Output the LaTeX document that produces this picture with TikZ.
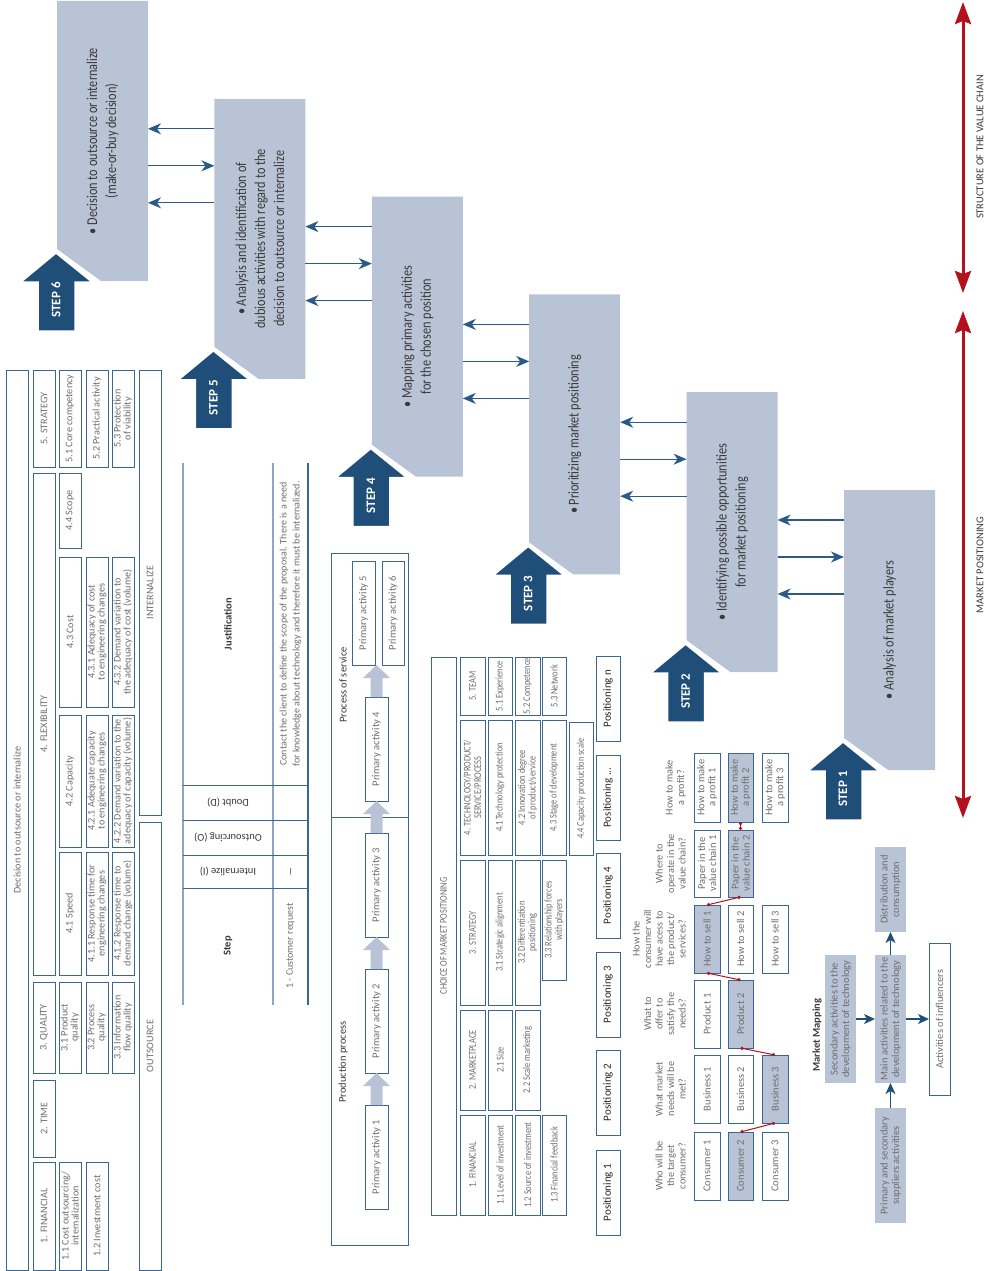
\documentclass[tikz,border=0pt]{standalone}
\usepackage{fontspec}
\setmainfont{Carlito}
\newfontfamily\pfont[FakeStretch=0.82]{Carlito}
\newfontfamily\tfont[FakeStretch=0.82]{Carlito}
\usetikzlibrary{arrows.meta,calc}

\definecolor{panelc}{HTML}{B8C4D5}
\definecolor{stepc}{HTML}{1F4E79}
\definecolor{connc}{HTML}{2A5A8A}
\definecolor{tblc}{HTML}{3A6691}
\definecolor{tbll}{HTML}{8DA6C3}
\definecolor{txtc}{HTML}{6E6E6E}
\definecolor{dtxt}{HTML}{3A3A3A}
\definecolor{redc}{HTML}{B3121C}

\tikzset{
  cellbox/.style={draw=tblc, line width=0.9pt, rotate=90, inner sep=0pt, outer sep=0pt, align=center,
    font=\fontsize{10.2}{10}\selectfont, text=txtc},
  chbox/.style={font=\tfont\fontsize{10.3}{10.5}\selectfont},
  pabox/.style={font=\fontsize{10.5}{11}\selectfont},
  posbox/.style={font=\fontsize{11}{12}\selectfont, text=black!85, draw=tblc},
  mmbox/.style={font=\fontsize{10.5}{11}\selectfont},
  selbox/.style={fill=panelc},
  gbox/.style={draw=none, fill=panelc, font=\fontsize{10.5}{11.5}\selectfont},
  panelnode/.style={minimum width=91pt, minimum height=280pt, inner sep=0pt, outer sep=0pt, anchor=north west},
  ptext/.style={rotate=90, align=center, font=\pfont\fontsize{15}{19}\selectfont, text=dtxt},
  steptext/.style={rotate=90, font=\bfseries\fontsize{13}{13}\selectfont, text=white},
  connline/.style={draw=connc, line width=1.3pt, -{Stealth[length=13pt,width=11pt,inset=4pt]}},
  redarrow/.style={draw=redc, line width=3pt, {Stealth[length=22pt,width=16pt,inset=3pt]}-{Stealth[length=22pt,width=16pt,inset=3pt]}},
  redlink/.style={draw=redc, line width=1pt, {Circle[length=3.2pt]}-{Circle[length=3.2pt]}},
  mmarrow/.style={draw=stepc, line width=1.4pt, -{Stealth[length=11pt,width=10pt,inset=3pt]}},
  sidelabel/.style={rotate=90, font=\fontsize{10.5}{11}\selectfont, text=dtxt},
  hdr/.style={font=\fontsize{10.5}{11}\selectfont, text=dtxt},
  qtext/.style={rotate=90, anchor=south, align=center, inner sep=0pt, font=\fontsize{10.3}{11.5}\selectfont, text=txtc}
}

\newcommand\tcell[7][]{%
  \pgfmathsetmacro\tcL{abs(#6-#4)}%
  \pgfmathsetmacro\tcW{abs(#5-#3)}%
  \pgfmathsetmacro\tcX{(#3+#5)/2}%
  \pgfmathsetmacro\tcY{(#4+#6)/2}%
  \node[cellbox,minimum width=\tcL pt,minimum height=\tcW pt,#1] (#2) at (\tcX,\tcY) {#7};%
}
% block arrow from page-top of rotated node #1 up to page-bottom of node #2
\newcommand\blockarrow[2]{%
  \coordinate (ba1) at (#1.east);
  \coordinate (ba2) at (#1.east |- #2.west);
  \fill[panelc] ($(ba1)+(-6,0)$) -- ($(ba2)+(-6,13)$) -- ($(ba2)+(-13.5,13)$) -- (ba2) -- ($(ba2)+(13.5,13)$) -- ($(ba2)+(6,13)$) -- ($(ba1)+(6,0)$) -- cycle;
}

\begin{document}
\begin{tikzpicture}[x=1pt,y=-1pt]
\useasboundingbox (0,0) rectangle (989,1271);

% ---------------- step panels ----------------
\foreach \i/\k in {0/6,1/5,2/4,3/3,4/2,5/1}{
  \pgfmathsetmacro\px{57+157.4*\i}
  \pgfmathsetmacro\py{1+97.8*\i}
  \node[panelnode] (p\k) at (\px,\py) {};
  \fill[panelc] (p\k.north west) -- (p\k.north east) -- (p\k.south east) -- ($(p\k.south west)+(44,0)$) -- ($(p\k.south west)+(0,-32)$) -- cycle;
  \filldraw[fill=stepc, draw=white, line width=1.5pt] ($(p\k.south west)+(-19,50)$) -- ($(p\k.south west)+(-19,1)$) -- ($(p\k.south west)+(-36,1)$) -- ($(p\k.south west)+(-1,-28)$) -- ($(p\k.south west)+(35,1)$) -- ($(p\k.south west)+(18,1)$) -- ($(p\k.south west)+(18,50)$) -- cycle;
  \node[steptext] (s\k) at ($(p\k.south west)+(-1,19)$) {STEP \k};
}
\node[ptext] (t6) at (p6.center) {• Decision to outsource or internalize\\(make-or-buy decision)};
\node[ptext] (t5) at (p5.center) {• Analysis and identification of\\dubious activities with regard to the\\decision to outsource or internalize};
\node[ptext] (t4) at (p4.center) {• Mapping primary activities\\for the chosen position};
\node[ptext] (t3) at (p3.center) {• Prioritizing market positioning};
\node[ptext] (t2) at (p2.center) {• Identifying possible opportunities\\for market positioning};
\node[ptext] (t1) at (p1.center) {• Analysis of market players};

\foreach \l/\r in {6/5,5/4,4/3,3/2,2/1}{
  \coordinate (a\r) at ($(p\r.north west)+(0,30)$);
  \coordinate (b\r) at ($(p\r.north west)+(0,67)$);
  \coordinate (c\r) at ($(p\r.north west)+(0,104)$);
  \draw[connline] (a\r) -- (a\r -| p\l.east);
  \draw[connline] (b\r -| p\l.east) -- (b\r);
  \draw[connline] (c\r) -- (c\r -| p\l.east);
}

% ---------------- red side arrows ----------------
\coordinate (r1) at (963,2);
\coordinate (r2) at (963,293);
\coordinate (r3) at (963,311);
\coordinate (r4) at (963,818);
\draw[redarrow] (r1) -- (r2);
\draw[redarrow] (r3) -- (r4);
\node[sidelabel] (lvc) at (980,147) {STRUCTURE OF THE VALUE CHAIN};
\node[sidelabel] (lmp) at (980,565) {MARKET POSITIONING};

% ---------------- left table ----------------
\tcell{lA}{6}{370}{28}{1270}{Decision to outsource or internalize}
\tcell{lS}{33}{370}{55}{467}{5. STRATEGY}
\tcell{lF}{33}{473}{55}{975}{4. FLEXIBILITY}
\tcell{lQ}{33}{982}{55}{1073}{3. QUALITY}
\tcell{lT}{33}{1080}{55}{1157}{2. TIME}
\tcell{lFi}{33}{1162}{55}{1270}{1. FINANCIAL}
\tcell{c51}{59}{370}{81}{467}{5.1 Core competency}
\tcell{c44}{59}{473}{81}{548}{4.4 Scope}
\tcell{c43}{59}{557}{81}{707}{4.3 Cost}
\tcell{c42}{59}{715}{81}{847}{4.2 Capacity}
\tcell{c41}{59}{852}{81}{975}{4.1 Speed}
\tcell{c31}{59}{982}{81}{1073}{3.1 Product\\quality}
\tcell{c11}{59}{1162}{81}{1270}{1.1 Cost outsourcing/\\internalization}
\tcell{d52}{86}{370}{108}{467}{5.2 Practical activity}
\tcell{d431}{86}{557}{108}{707}{4.3.1 Adequacy of cost\\to engineering changes}
\tcell{d421}{86}{715}{108}{847}{4.2.1 Adequate capacity\\to engineering changes}
\tcell{d411}{86}{852}{108}{975}{4.1.1 Response time for\\engineering changes}
\tcell{d32}{86}{982}{108}{1073}{3.2 Process\\quality}
\tcell{d12}{86}{1162}{108}{1270}{1.2 Investment cost}
\tcell{e53}{112}{370}{134}{467}{5.3 Protection\\of viability}
\tcell{e432}{112}{557}{134}{707}{4.3.2 Demand variation to\\the adequacy of cost (volume)}
\tcell{e422}{112}{715}{134}{847}{4.2.2 Demand variation to the\\adequacy of capacity (volume)}
\tcell{e412}{112}{852}{134}{975}{4.1.2 Response time to\\demand change (volume)}
\tcell{e33}{112}{982}{134}{1073}{3.3 Information\\flow quality}
\tcell{fI}{139}{370}{161}{815}{INTERNALIZE}
\tcell{fO}{139}{822}{161}{1270}{OUTSOURCE}

% ---------------- middle table ----------------
\draw[tbll, line width=1.5pt] (183,463) -- (183,1005);
\draw[tbll, line width=1.5pt] (273,463) -- (273,1005);
\draw[tblc, line width=1.2pt] (308,463) -- (308,1005);
\foreach \yy in {785,820,855,888}{ \draw[tblc, line width=0.9pt] (183,\yy) -- (308,\yy); }
\node[hdr, rotate=90, font=\bfseries\fontsize{10.5}{11}\selectfont] (mJ) at (228,624) {Justification};
\node[hdr, rotate=180] (mD) at (228,802.5) {Doubt (D)};
\node[hdr, rotate=180] (mO) at (228,837.5) {Outsourcing (O)};
\node[hdr, rotate=180] (mI) at (228,871.5) {Internalize (I)};
\node[hdr, rotate=90, font=\bfseries\fontsize{10.5}{11}\selectfont] (mS) at (228,946) {Step};
\node[rotate=90, align=center, text=txtc, font=\fontsize{10}{13}\selectfont] (mC) at (290.5,624) {Contact the client to define the scope of the proposal. There is a need\\for knowledge about technology and therefore it must be internalized.};
\node[rotate=180, text=txtc, font=\fontsize{10}{11}\selectfont] (mX) at (290.5,871.5) {I};
\node[rotate=90, text=txtc, font=\fontsize{10}{11}\selectfont] (mR) at (290.5,946) {1 - Customer request};

% ---------------- process diagram ----------------
\draw[tblc, line width=1pt] (331,553) rectangle (408,1245);
\draw[tblc, line width=1pt] (331,817) -- (408,817);
\node[hdr, rotate=90] (lsv) at (343,685) {Process of service};
\node[hdr, rotate=90] (lpp) at (343,1062) {Production process};
\tcell[pabox]{pa5}{352}{561}{375}{665}{Primary activity 5}
\tcell[pabox]{pa6}{382}{561}{404}{665}{Primary activity 6}
\tcell[pabox]{pa4}{365}{697}{388}{801}{Primary activity 4}
\tcell[pabox]{pa3}{365}{833}{388}{937}{Primary activity 3}
\tcell[pabox]{pa2}{365}{969}{388}{1073}{Primary activity 2}
\tcell[pabox]{pa1}{365}{1105}{388}{1209}{Primary activity 1}
\coordinate (pa56) at ($(pa5.west)!0.5!(pa6.west)$);
\blockarrow{pa4}{pa56}
\blockarrow{pa3}{pa4}
\blockarrow{pa2}{pa3}
\blockarrow{pa1}{pa2}

% ---------------- choice of market positioning ----------------
\tcell[chbox]{chO}{431}{657}{456}{1215}{CHOICE OF MARKET POSITIONING}
\tcell[chbox]{h5}{460}{657}{485}{715}{5. TEAM}
\tcell[chbox]{h4}{460}{720}{485}{855}{4. TECHNOLOGY/PRODUCT/\\SERVICE/PROCESS}
\tcell[chbox]{h3}{460}{860}{485}{1005}{3. STRATEGY}
\tcell[chbox]{h2}{460}{1010}{485}{1110}{2. MARKETPLACE}
\tcell[chbox]{h1}{460}{1115}{485}{1215}{1. FINANCIAL}
\tcell[chbox]{k51}{488}{657}{512}{715}{5.1 Experience}
\tcell[chbox]{k41}{488}{720}{512}{855}{4.1 Technology protection}
\tcell[chbox]{k31}{488}{860}{512}{1005}{3.1 Strategic alignment}
\tcell[chbox]{k21}{488}{1010}{512}{1110}{2.1 Size}
\tcell[chbox]{k11}{488}{1115}{512}{1215}{1.1 Level of investment}
\tcell[chbox]{k52}{515}{657}{540}{715}{5.2 Competence}
\tcell[chbox]{k42}{515}{720}{540}{855}{4.2 Innovation degree\\of product/service}
\tcell[chbox]{k32}{515}{860}{540}{1005}{3.2 Differentiation\\positioning}
\tcell[chbox]{k22}{515}{1010}{540}{1110}{2.2 Scale marketing}
\tcell[chbox]{k12}{515}{1115}{540}{1215}{1.2 Source of investment}
\tcell[chbox]{k53}{542}{657}{566}{715}{5.3 Network}
\tcell[chbox]{k43}{542}{720}{566}{855}{4.3 Stage of development}
\tcell[chbox]{k33}{542}{860}{566}{980}{3.3 Relationship forces\\with players}
\tcell[chbox]{k13}{542}{1115}{566}{1215}{1.3 Financial feedback}
\tcell[chbox]{k44}{569}{722}{593}{855}{4.4 Capacity production scale}
\tcell[posbox]{posn}{596}{656}{620}{741}{Positioning n}
\tcell[posbox]{posx}{596}{755}{620}{840}{Positioning ...}
\tcell[posbox]{pos4}{596}{853}{620}{938}{Positioning 4}
\tcell[posbox]{pos3}{596}{952}{620}{1037}{Positioning 3}
\tcell[posbox]{pos2}{596}{1050}{620}{1135}{Positioning 2}
\tcell[posbox]{pos1}{596}{1150}{620}{1235}{Positioning 1}

% ---------------- market mapping grid ----------------
\node[qtext] (qpr) at (686,787.5) {How to make\\a profit?};
\node[qtext] (qpa) at (686,863.5) {Where to\\operate in the\\value chain?};
\node[qtext] (qse) at (686,939) {How the\\consumer will\\have acess to\\the product/\\services?};
\node[qtext] (qpd) at (686,1014) {What to\\offer to\\satisfy the\\needs?};
\node[qtext] (qbu) at (686,1089) {What market\\needs will be\\met?};
\node[qtext] (qco) at (686,1166) {Who will be\\the target\\consumer?};

\tcell[mmbox]{pr1}{694}{753}{720}{822}{How to make\\a profit 1}
\tcell[mmbox,selbox]{pr2}{728}{753}{753}{822}{How to make\\a profit 2}
\tcell[mmbox]{pr3}{762}{753}{788}{822}{How to make\\a profit 3}
\tcell[mmbox]{pv1}{694}{830}{720}{897}{Paper in the\\value chain 1}
\tcell[mmbox,selbox]{pv2}{728}{830}{753}{897}{Paper in the\\value chain 2}
\tcell[mmbox,selbox]{hs1}{694}{905}{720}{973}{How to sell 1}
\tcell[mmbox]{hs2}{728}{905}{753}{973}{How to sell 2}
\tcell[mmbox]{hs3}{762}{905}{788}{973}{How to sell 3}
\tcell[mmbox]{pd1}{694}{980}{720}{1048}{Product 1}
\tcell[mmbox,selbox]{pd2}{728}{980}{753}{1048}{Product 2}
\tcell[mmbox]{bu1}{694}{1055}{720}{1123}{Business 1}
\tcell[mmbox]{bu2}{728}{1055}{753}{1123}{Business 2}
\tcell[mmbox,selbox]{bu3}{762}{1055}{788}{1123}{Business 3}
\tcell[mmbox]{co1}{694}{1132}{720}{1200}{Consumer 1}
\tcell[mmbox,selbox]{co2}{728}{1132}{753}{1200}{Consumer 2}
\tcell[mmbox]{co3}{762}{1132}{788}{1200}{Consumer 3}

\draw[redlink] (co2.east) -- (bu3.west);
\draw[redlink] (bu3.east) -- (pd2.west);
\draw[redlink] (pd2.east) -- (hs1.west);
\draw[redlink] (hs1.east) -- (pv2.west);
\draw[redlink] (pv2.east) -- (pr2.west);

% ---------------- market mapping flow ----------------
\node[rotate=90, font=\bfseries\fontsize{10.5}{11}\selectfont, text=dtxt] (mmt) at (817,1035) {Market Mapping};
\tcell[gbox]{sec}{825}{955}{856}{1083}{Secondary activities to the\\development of technology}
\tcell[gbox]{mainact}{875}{955}{906}{1083}{Main activities related to the\\development of technology}
\tcell[gbox]{supp}{875}{1108}{906}{1223}{Primary and secondary\\suppliers activities}
\tcell[gbox]{dist}{875}{847}{906}{932}{Distribution and\\consumption}
\tcell[mmbox]{infl}{929}{943}{950}{1095}{Activities of influencers}
\draw[mmarrow] (sec.south) -- (mainact.north);
\draw[mmarrow] (mainact.south) -- (infl.north);
\draw[mmarrow] (supp.east) -- (mainact.west);
\draw[mmarrow] (mainact.east) -- (dist.west);

\end{tikzpicture}
\end{document}
